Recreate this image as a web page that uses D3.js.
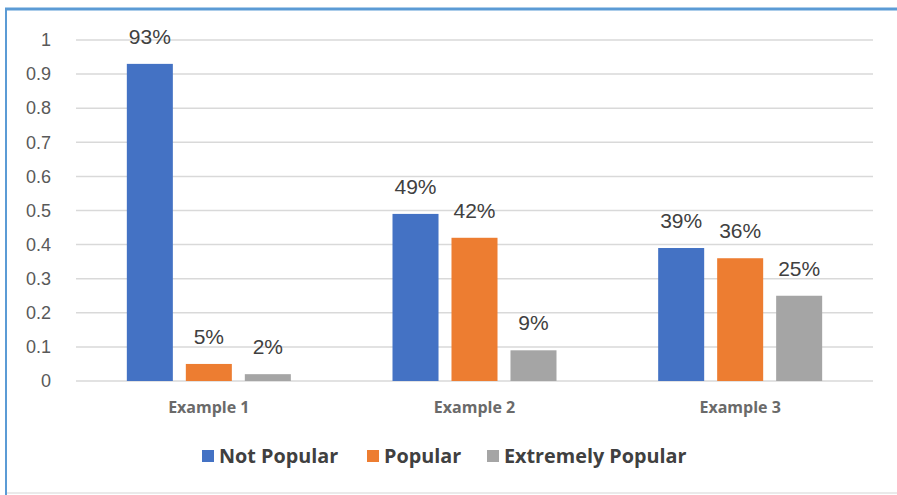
<!DOCTYPE html>
<html>
<head>
<meta charset="utf-8">
<script src="https://cdn.jsdelivr.net/npm/d3@7"></script>
<style>
  body { margin: 0; background: #fff; }
  svg { display: block; }
</style>
</head>
<body>
<div id="chart"></div>
<script>
// data
var categories = ["Example 1", "Example 2", "Example 3"];
var seriesNames = ["Not Popular", "Popular", "Extremely Popular"];
var notPopular = [0.93, 0.49, 0.39];
var popular = [0.05, 0.42, 0.36];
var extremelyPopular = [0.02, 0.09, 0.25];
var yTicks = [0, 0.1, 0.2, 0.3, 0.4, 0.5, 0.6, 0.7, 0.8, 0.9, 1];
var colors = ["#4472C4", "#ED7D31", "#A5A5A5"];

var W = 897, H = 495;
var plot = {left: 76, right: 873, top: 40, bottom: 381};

var svg = d3.select("#chart").append("svg")
  .attr("width", W)
  .attr("height", H);

// frame
svg.append("line").attr("x1", 5).attr("x2", W).attr("y1", 9).attr("y2", 9)
  .attr("stroke", "#5B9BD5").attr("stroke-width", 3);
svg.append("line").attr("x1", 6).attr("x2", 6).attr("y1", 8).attr("y2", H)
  .attr("stroke", "#5B9BD5").attr("stroke-width", 2);
svg.append("line").attr("x1", 7).attr("x2", W).attr("y1", 493).attr("y2", 493)
  .attr("stroke", "#e3e3e3").attr("stroke-width", 1.5);

var x0 = d3.scaleBand()
  .domain(categories)
  .range([plot.left, plot.right])
  .paddingInner(0)
  .paddingOuter(0);

var x1 = d3.scaleBand()
  .domain(seriesNames)
  .range([0, 164])
  .paddingInner(0.22);

var y = d3.scaleLinear()
  .domain([0, 1])
  .range([plot.bottom, plot.top]);

// gridlines
svg.append("g")
  .selectAll("line")
  .data(yTicks)
  .enter().append("line")
  .attr("x1", plot.left)
  .attr("x2", plot.right)
  .attr("y1", d => y(d))
  .attr("y2", d => y(d))
  .attr("stroke", "#d9d9d9")
  .attr("stroke-width", 1.5);

// y axis labels
var yAxis = svg.append("g")
  .attr("transform", "translate(" + (plot.left - 22) + ",0)")
  .call(d3.axisLeft(y).tickValues(yTicks).tickSize(0).tickFormat(d3.format("")));
yAxis.select(".domain").remove();
yAxis.selectAll("text")
  .attr("font-family", "'Liberation Sans', Arial, sans-serif")
  .attr("font-size", 18)
  .attr("fill", "#595959");

// x axis labels
var xAxis = svg.append("g")
  .attr("transform", "translate(0," + (plot.bottom + 18) + ")")
  .call(d3.axisBottom(x0).tickSize(0));
xAxis.select(".domain").remove();
xAxis.selectAll("text")
  .attr("font-family", "'Open Sans', sans-serif")
  .attr("font-weight", 700)
  .attr("font-size", 16)
  .attr("fill", "#6a6a6a");

var rows = categories.map(function (c, i) {
  return {cat: c, vals: [notPopular[i], popular[i], extremelyPopular[i]]};
});

var groups = svg.selectAll(".grp")
  .data(rows)
  .enter().append("g")
  .attr("class", "grp")
  .attr("transform", d => "translate(" + (x0(d.cat) + x0.bandwidth() / 2 - 82) + ",0)");

var cells = groups.selectAll(".cell")
  .data(d => d.vals.map((v, j) => ({name: seriesNames[j], v: v, j: j})))
  .enter().append("g");

cells.append("rect")
  .attr("x", d => x1(d.name))
  .attr("width", x1.bandwidth())
  .attr("y", d => y(d.v))
  .attr("height", d => plot.bottom - y(d.v))
  .attr("fill", d => colors[d.j]);

cells.append("text")
  .attr("x", d => x1(d.name) + x1.bandwidth() / 2)
  .attr("y", d => y(d.v) - 20)
  .attr("text-anchor", "middle")
  .attr("font-family", "'Liberation Sans', Arial, sans-serif")
  .attr("font-size", 21)
  .attr("fill", "#404040")
  .text(d => Math.round(d.v * 100) + "%");

// legend
var legendX = [202, 367, 487];
var legend = svg.selectAll(".legend")
  .data(seriesNames)
  .enter().append("g")
  .attr("transform", (d, i) => "translate(" + legendX[i] + ",450)");
legend.append("rect")
  .attr("width", 12).attr("height", 12)
  .attr("fill", (d, i) => colors[i]);
legend.append("text")
  .attr("x", 17)
  .attr("y", 13)
  .attr("font-family", "'Open Sans', sans-serif")
  .attr("font-weight", 700)
  .attr("font-size", 19.8)
  .attr("fill", "#404040")
  .text(d => d);
</script>
</body>
</html>
